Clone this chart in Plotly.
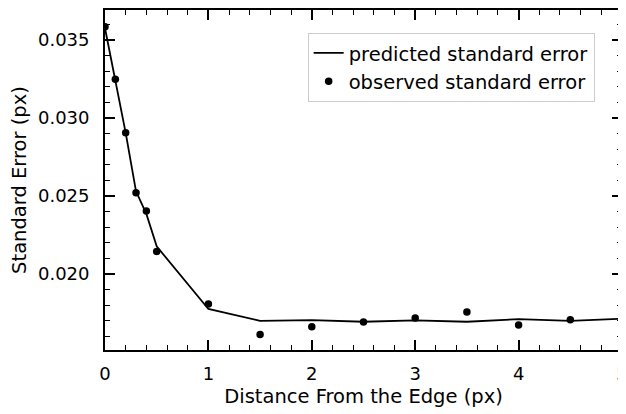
import plotly.graph_objects as go

distance = [0, 0.1, 0.2, 0.3, 0.4, 0.5, 1, 1.5, 2, 2.5, 3, 3.5, 4, 4.5, 5]
predicted = [0.03575, 0.03245, 0.02905, 0.02530, 0.02385, 0.02177, 0.01776, 0.01700,
             0.01705, 0.01694, 0.01703, 0.01694, 0.01711, 0.01700, 0.01713]
observed = [0.03585, 0.03248, 0.02906, 0.02521, 0.02404, 0.02145, 0.01808, 0.01613,
            0.01662, 0.01692, 0.01718, 0.01756, 0.01673, 0.01707, 0.01711]

font = "DejaVu Sans"
fig = go.Figure()
fig.add_trace(go.Scatter(x=distance, y=predicted, mode="lines", name="predicted standard error",
                         line=dict(color="black", width=1.8)))
fig.add_trace(go.Scatter(x=distance, y=observed, mode="markers", name="observed standard error",
                         marker=dict(color="black", size=7.5)))

axis_common = dict(showline=True, linecolor="black", linewidth=1.8, mirror="allticks",
                   ticks="inside", ticklen=10, tickwidth=1.6, tickcolor="black",
                   showgrid=False, zeroline=False, automargin=False,
                   tickfont=dict(family=font, size=18, color="black"))

fig.update_xaxes(range=[0, 5], dtick=1, tick0=0, ticklabelstandoff=6,
                 title=dict(text="Distance From the Edge (px)", font=dict(family=font, size=19.5, color="black"), standoff=7),
                 minor=dict(ticks="inside", ticklen=5, tickwidth=1.2, tickcolor="black", dtick=0.2),
                 **axis_common)
fig.update_yaxes(range=[0.01513, 0.03692], dtick=0.005, tick0=0, tickformat=".3f", ticklabelstandoff=10,
                 title=dict(text="Standard Error (px)", font=dict(family=font, size=19.5, color="black"), standoff=6),
                 minor=dict(ticks="inside", ticklen=5, tickwidth=1.2, tickcolor="black", dtick=0.001),
                 **axis_common)

fig.update_layout(
    width=626, height=414,
    margin=dict(l=97, r=12, t=2, b=72),
    paper_bgcolor="white", plot_bgcolor="white",
    showlegend=True,
    legend=dict(x=0.392, y=0.933, xanchor="left", yanchor="top",
                bgcolor="white", bordercolor="#cccccc", borderwidth=1,
                font=dict(family=font, size=19.5, color="black"), itemwidth=30,
                tracegroupgap=0),
)
fig.write_html("out.html")
